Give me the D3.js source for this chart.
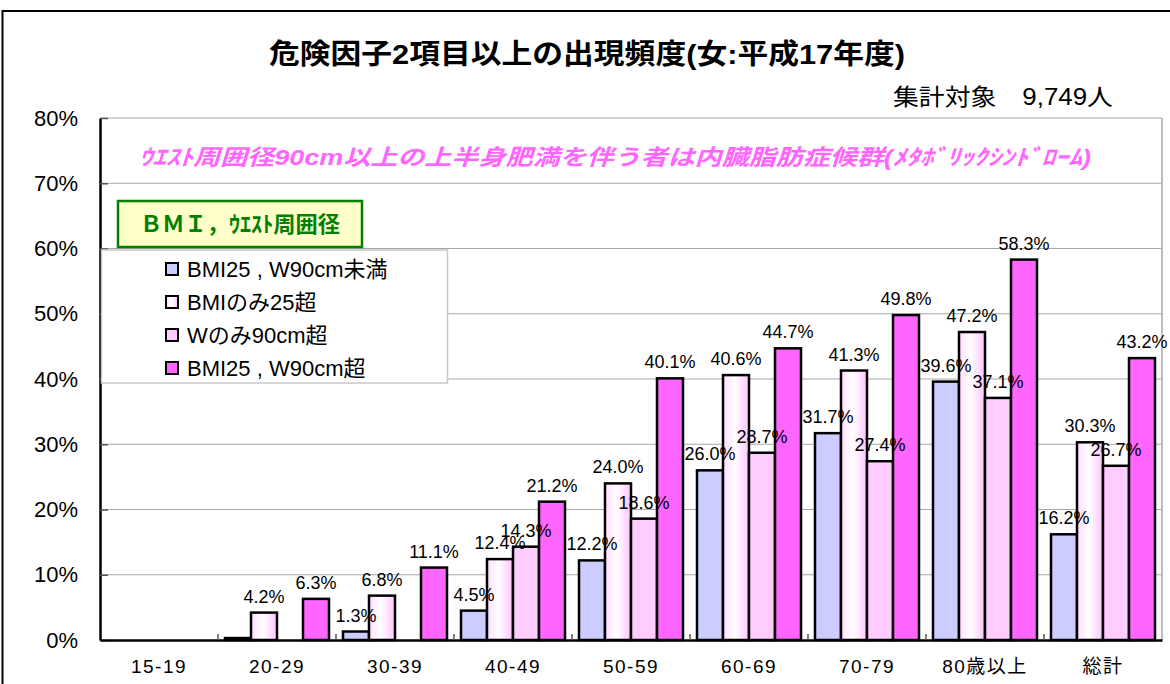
<!DOCTYPE html>
<html>
<head>
<meta charset="utf-8">
<script src="https://cdn.jsdelivr.net/npm/d3@7"></script>
<style>
  body { margin: 0; background: #fff; }
  text { font-family: "Liberation Sans", Arial, "Noto Sans CJK JP", sans-serif; }
</style>
</head>
<body>
<div id="chart"></div>
<script>
var categories = ["15-19", "20-29", "30-39", "40-49", "50-59", "60-69", "70-79", "80歳以上", "総計"];
var seriesNames = ["BMI25 , W90cm未満", "BMIのみ25超", "Wのみ90cm超", "BMI25 , W90cm超"];
var normalVals = [0, 0.3, 1.3, 4.5, 12.2, 26.0, 31.7, 39.6, 16.2];
var bmiOnlyVals = [0, 4.2, 6.8, 12.4, 24.0, 40.6, 41.3, 47.2, 30.3];
var waistOnlyVals = [0, 0, 0, 14.3, 18.6, 28.7, 27.4, 37.1, 26.7];
var bothVals = [0, 6.3, 11.1, 21.2, 40.1, 44.7, 49.8, 58.3, 43.2];
var yTicks = [0, 10, 20, 30, 40, 50, 60, 70, 80];

var allSeries = [normalVals, bmiOnlyVals, waistOnlyVals, bothVals];
var fills = ["#CCCCFF", "url(#bmiGrad)", "#FFCCFF", "#FF66FF"];

var W = 1170, H = 684;
var margin = {top: 118, right: 8, bottom: 44, left: 100};
var width = W - margin.left - margin.right;
var height = H - margin.top - margin.bottom;

var svg = d3.select("#chart").append("svg")
    .attr("width", W)
    .attr("height", H);

// gradient for the "BMIのみ25超" bars
var grad = svg.append("defs").append("linearGradient")
    .attr("id", "bmiGrad")
    .attr("x1", "0%").attr("x2", "100%").attr("y1", "0%").attr("y2", "0%");
grad.append("stop").attr("offset", "0%").attr("stop-color", "#FFDDFF");
grad.append("stop").attr("offset", "45%").attr("stop-color", "#FFFFFF");
grad.append("stop").attr("offset", "100%").attr("stop-color", "#FFC4FF");

// outer frame
svg.append("rect")
    .attr("x", 2.5).attr("y", 11)
    .attr("width", W + 20).attr("height", H + 20)
    .attr("fill", "none")
    .attr("stroke", "#000")
    .attr("stroke-width", 2);

svg.append("text")
    .attr("x", 587).attr("y", 64)
    .attr("text-anchor", "middle")
    .attr("textLength", 636)
    .attr("lengthAdjust", "spacingAndGlyphs")
    .style("font-size", "28px")
    .style("font-weight", "bold")
    .text("危険因子2項目以上の出現頻度(女:平成17年度)");

svg.append("text")
    .attr("x", 1113).attr("y", 105)
    .attr("text-anchor", "end")
    .attr("textLength", 220)
    .attr("lengthAdjust", "spacingAndGlyphs")
    .style("font-size", "23px")
    .text("集計対象　9,749人");

var x0 = d3.scaleBand()
    .domain(categories)
    .range([0, width]);

var x1 = d3.scaleBand()
    .domain(d3.range(allSeries.length))
    .range([7, x0.bandwidth() - 7]);

var y = d3.scaleLinear()
    .domain([0, 80])
    .range([height, 0]);

var g = svg.append("g")
    .attr("transform", "translate(" + margin.left + "," + margin.top + ")");

// gridlines
g.append("g")
    .attr("class", "grid")
    .selectAll("line")
    .data(yTicks.slice(1))
    .enter().append("line")
    .attr("x1", 0).attr("x2", width)
    .attr("y1", function(d) { return y(d); })
    .attr("y2", function(d) { return y(d); })
    .attr("stroke", "#A8A8A8")
    .attr("stroke-width", 1);

g.append("line")
    .attr("x1", width).attr("x2", width)
    .attr("y1", 0).attr("y2", height)
    .attr("stroke", "#A8A8A8")
    .attr("stroke-width", 1.5);

// magenta note
g.append("text")
    .attr("x", 39).attr("y", 47)
    .attr("textLength", 952)
    .attr("lengthAdjust", "spacingAndGlyphs")
    .attr("fill", "#FF66FF")
    .style("font-size", "22px")
    .style("font-weight", "bold")
    .style("font-style", "italic")
    .text("ｳｴｽﾄ周囲径90cm以上の上半身肥満を伴う者は内臓脂肪症候群(ﾒﾀﾎﾞﾘｯｸｼﾝﾄﾞﾛｰﾑ)");

// bars
var groups = g.selectAll(".cat")
    .data(categories)
    .enter().append("g")
    .attr("class", "cat")
    .attr("transform", function(d) { return "translate(" + x0(d) + ",0)"; });

groups.selectAll("rect")
    .data(function(d, i) {
        return allSeries.map(function(s, k) { return {k: k, value: s[i]}; });
    })
    .enter().append("rect")
    .filter(function(d) { return d.value > 0; })
    .attr("x", function(d) { return x1(d.k); })
    .attr("width", x1.bandwidth())
    .attr("y", function(d) { return y(d.value); })
    .attr("height", function(d) { return height - y(d.value); })
    .attr("fill", function(d) { return fills[d.k]; })
    .attr("stroke", "#000")
    .attr("stroke-width", 2.5);

// value labels (they overlap in places, as in the original)
groups.selectAll(".lbl")
    .data(function(d, i) {
        return allSeries.map(function(s, k) { return {k: k, value: s[i]}; });
    })
    .enter().append("text")
    .filter(function(d) { return d.value >= 1; })
    .attr("class", "lbl")
    .attr("x", function(d) { return x1(d.k) + x1.bandwidth() / 2; })
    .attr("y", function(d) { return y(d.value) - 10; })
    .attr("text-anchor", "middle")
    .style("font-size", "18px")
    .text(function(d) { return d.value.toFixed(1) + "%"; });

// y axis
var axisY = d3.axisLeft(y)
    .tickValues(yTicks)
    .tickSize(0)
    .tickPadding(22)
    .tickFormat(function(d) { return d + "%"; });

var gy = g.append("g")
    .attr("class", "axis axis--y")
    .call(axisY);
gy.select(".domain").attr("stroke", "#000").attr("stroke-width", 2.5);
gy.selectAll("text").style("font-size", "22px").attr("fill", "#000");
gy.selectAll(".tick").append("line")
    .attr("x1", 0).attr("x2", 8)
    .attr("stroke", "#555").attr("stroke-width", 1.5);

// legend box
var legend = g.append("g")
    .attr("transform", "translate(0," + (250 - margin.top) + ")");
legend.append("rect")
    .attr("x", 1.5).attr("y", 0)
    .attr("width", 346).attr("height", 133)
    .attr("fill", "#fff")
    .attr("stroke", "#C8C8C8")
    .attr("stroke-width", 1.5);

var items = legend.selectAll(".item")
    .data(seriesNames)
    .enter().append("g")
    .attr("class", "item")
    .attr("transform", function(d, i) { return "translate(66," + (19 + i * 33) + ")"; });
items.append("rect")
    .attr("x", 0).attr("y", -6)
    .attr("width", 12).attr("height", 12)
    .attr("fill", function(d, i) { return fills[i]; })
    .attr("stroke", "#000")
    .attr("stroke-width", 2);
items.append("text")
    .attr("x", 21).attr("y", 8)
    .style("font-size", "22px")
    .text(function(d) { return d; });

// green caption box
legend.append("rect")
    .attr("x", 18).attr("y", -49)
    .attr("width", 244).attr("height", 46)
    .attr("fill", "#FFFFCC")
    .attr("stroke", "#008000")
    .attr("stroke-width", 2.5);
legend.append("text")
    .attr("x", 140).attr("y", -18)
    .attr("text-anchor", "middle")
    .attr("textLength", 200)
    .attr("lengthAdjust", "spacingAndGlyphs")
    .attr("fill", "#008000")
    .style("font-size", "22px")
    .style("font-weight", "bold")
    .text("ＢＭＩ，ｳｴｽﾄ周囲径");

// x axis
var axisX = d3.axisBottom(x0).tickSize(0).tickPadding(20);
var gx = g.append("g")
    .attr("class", "axis axis--x")
    .attr("transform", "translate(0," + height + ")")
    .call(axisX);
gx.select(".domain").attr("stroke", "#000").attr("stroke-width", 2.5);
gx.selectAll("text")
    .style("font-size", "19px")
    .style("letter-spacing", "1.5px")
    .attr("fill", "#000");

gx.selectAll(".bound")
    .data(categories.slice(1))
    .enter().append("line")
    .attr("class", "bound")
    .attr("x1", function(d) { return x0(d); })
    .attr("x2", function(d) { return x0(d); })
    .attr("y1", 0).attr("y2", -6)
    .attr("stroke", "#555")
    .attr("stroke-width", 1.5);
</script>
</body>
</html>
